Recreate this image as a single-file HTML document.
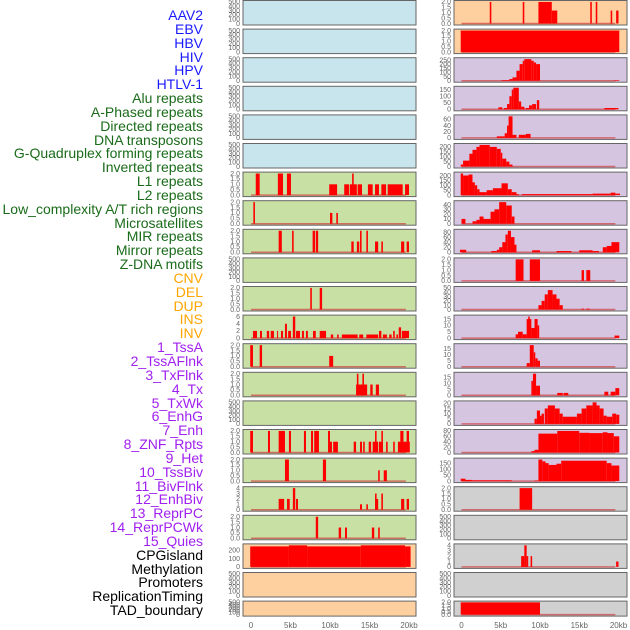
<!DOCTYPE html>
<html><head><meta charset="utf-8">
<style>
body{margin:0;background:#fff;width:630px;height:630px;overflow:hidden;font-family:"Liberation Sans",sans-serif}
#labels div{position:absolute;right:427px;font-size:14px;line-height:14px;white-space:nowrap}
</style></head>
<body>
<div id="labels"></div>
<svg id="chart" width="630" height="630" style="position:absolute;left:0;top:0"></svg>
<script>
const labelNames=["AAV2","EBV","HBV","HIV","HPV","HTLV-1","Alu repeats","A-Phased repeats","Directed repeats","DNA transposons","G-Quadruplex forming repeats","Inverted repeats","L1 repeats","L2 repeats","Low_complexity A/T rich regions","Microsatellites","MIR repeats","Mirror repeats","Z-DNA motifs","CNV","DEL","DUP","INS","INV","1_TssA","2_TssAFlnk","3_TxFlnk","4_Tx","5_TxWk","6_EnhG","7_Enh","8_ZNF_Rpts","9_Het","10_TssBiv","11_BivFlnk","12_EnhBiv","13_ReprPC","14_ReprPCWk","15_Quies","CPGisland","Methylation","Promoters","ReplicationTiming","TAD_boundary"];
const labelColors=["#1a1aff","#1a1aff","#1a1aff","#1a1aff","#1a1aff","#1a1aff","#1a6b1a","#1a6b1a","#1a6b1a","#1a6b1a","#1a6b1a","#1a6b1a","#1a6b1a","#1a6b1a","#1a6b1a","#1a6b1a","#1a6b1a","#1a6b1a","#1a6b1a","#ffa500","#ffa500","#ffa500","#ffa500","#ffa500","#a020f0","#a020f0","#a020f0","#a020f0","#a020f0","#a020f0","#a020f0","#a020f0","#a020f0","#a020f0","#a020f0","#a020f0","#a020f0","#a020f0","#a020f0","#000","#000","#000","#000","#000"];

const T500=[0,100,200,300,400,500],T2=[0,0.5,1,1.5,2];
const leftBg=["b","b","b","b","b","b","g","g","g","g","g","g","g","g","g","g","g","g","g","o","o","o"];
const rightBg=["o","o","p","p","p","p","p","p","p","p","p","p","p","p","p","p","p","y","y","y","y","y"];
const leftTicks=[T500,T500,T500,T500,T500,T500,T2,T2,T2,T500,T2,[0,2,4,6],T2,T2,T500,T2,T2,[0,1,2,3,4],T2,[0,100,200],T500,T500];
const rightTicks=[T2,T2,[0,50,100,150,200,250],[0,50,100,150],[0,20,40,60],[0,50,100,150,200],[0,50,100,150,200],[0,10,20,30,40],[0,20,40,60,80],T2,[0,10,20,30,40,50],[0,5,10,15],[0,5,10,15],[0,5,10,15],[0,5,10,15,20],[0,20,40,60,80],[0,50,100,150],T2,T500,[0,1,2,3,4],T500,T2];

// bars: [startKb, endKb, value]
const L6=[[0.6,1.1,2],[3.4,4.05,2],[4.55,5.06,2],[9.9,10.9,1],[11.8,12.4,1],[12.5,13.4,1],[12.8,13.0,2],[13.5,14.05,1],[14.8,15.4,1],[15.7,16.2,1],[16.5,17.1,1],[17.3,19.2,1],[19.5,20,1]];
const L7=[[0.3,0.5,2],[10.0,10.3,1],[10.8,11.0,1]];
const L8=[[3.5,3.9,2],[5.2,5.4,2],[7.8,8.1,2],[8.2,8.5,2],[12.7,13.0,1],[13.4,13.7,1],[13.8,14.0,2],[14.6,14.8,2],[15.7,16.1,1],[16.5,16.7,1],[19.0,19.4,1],[19.7,20,1]];
const L10=[[7.5,7.7,2],[8.7,9.0,2]];
const L11=[[0.25,0.76,2],[1.14,1.39,2],[2.0,2.3,2],[2.5,2.9,2],[3.3,3.4,2],[3.8,4.05,2],[4.3,4.55,4],[4.7,5.06,2],[5.3,5.6,6],[5.7,6.2,2],[6.45,6.7,2],[6.96,7.2,2],[7.85,8.2,2],[8.7,9.5,2],[10.1,10.4,1],[10.9,11.1,1],[11.5,13.5,1],[13.7,14.2,1],[14.6,16.1,1],[16.2,16.5,2],[16.7,17.2,1],[17.5,17.8,1],[18.0,18.2,2],[18.4,18.6,1],[18.7,19.0,3],[19.1,20,2]];
const L12=[[-0.1,0.25,2],[1.1,1.4,2],[9.9,10.4,1]];
const L13=[[13.3,14.7,1],[13.4,13.6,2],[14.1,14.3,2],[15.1,15.4,1],[15.8,16.2,1]];
const L15=[[-0.1,0.25,2],[2.15,2.4,2],[3.5,4.3,2],[4.8,5.06,2],[6.7,6.96,2],[7.6,7.85,2],[8.0,8.6,2],[9.75,10.0,2],[10.0,10.25,1],[10.4,11.0,1],[13.0,13.3,1],[13.8,14.05,1],[14.2,14.4,1],[14.9,15.2,1],[15.4,16.1,1],[15.7,15.9,2],[16.2,16.7,1],[16.5,16.7,2],[17.1,17.3,1],[18.0,18.2,1],[18.6,20.1,1],[18.9,19.3,2],[19.7,20.0,2]];
const L16=[[4.3,4.8,2],[9.1,9.5,2],[16.1,16.3,1],[16.8,17.2,1]];
const L17=[[3.5,4.2,2],[4.55,4.9,2],[5.3,5.6,4],[5.7,5.95,2],[13.8,14.05,1],[14.6,14.8,1],[15.7,16.1,2],[15.7,15.9,3],[16.5,16.7,3],[19.0,19.4,2],[19.7,20,2]];
const L18=[[8.2,8.5,2],[11.1,11.4,1],[11.9,12.15,1],[15.3,15.6,1],[16.1,16.3,1]];
const L19=[[-0.1,4.8,245],[4.8,7.1,258],[7.1,13.9,245],[13.9,19.5,258],[19.5,20.2,245]];
const leftData=[[],[],[],[],[],[],L6,L7,L8,[],L10,L11,L12,L13,[],L15,L16,L17,L18,L19,[],[]];

const R0=[[3.6,3.8,2],[7.8,8.0,2],[9.8,11.5,2],[11.5,12.2,1.2],[16.4,16.6,2],[17.1,17.3,2],[19.0,19.2,1.2],[19.7,20.0,1.2]];
const R1=[[-0.1,20.1,2]];
const R2=[[5.1,6.1,8],[6.1,6.5,20],[6.5,7.0,40],[7.0,7.4,120],[7.4,7.8,200],[7.8,8.0,240],[8.0,8.9,260],[8.9,9.2,240],[9.2,9.5,220],[9.5,10.0,200],[19.5,20.1,8]];
const R3=[[4.7,5.2,15],[5.4,5.8,10],[5.8,6.1,40],[6.1,6.4,100],[6.4,6.6,150],[6.6,7.3,165],[7.3,7.6,60],[7.6,8.0,20],[8.0,8.2,5],[8.2,8.6,10],[8.6,9.0,30],[9.0,9.5,40],[9.6,9.9,70],[18.2,20.0,10]];
const R4=[[4.5,5.5,5],[5.5,5.8,15],[5.8,6.0,40],[6.0,6.5,70],[6.5,7.0,10],[7.3,8.2,10],[8.2,8.8,13]];
const R5=[[-0.1,0.2,20],[0.2,1.0,60],[1.0,1.4,130],[1.4,1.9,170],[1.9,2.3,200],[2.3,3.6,220],[3.6,4.5,200],[4.5,5.0,180],[5.0,5.2,140],[5.2,5.7,80],[5.7,6.1,50],[6.1,6.5,20]];
const R6=[[-0.1,0.2,220],[0.2,0.9,200],[0.9,1.4,210],[1.4,1.7,130],[1.7,2.0,100],[2.0,2.3,60],[2.3,3.2,30],[3.2,4.0,50],[4.0,5.1,70],[5.1,5.9,120],[5.9,6.4,60],[6.4,7.0,30],[7.0,7.3,10],[7.7,16.7,10],[16.7,19.0,15],[19.0,19.6,25],[19.6,20.2,15]];
const R7=[[0,0.5,10],[1.4,1.9,5],[1.9,2.3,8],[2.3,2.8,15],[2.8,3.7,10],[3.7,4.2,25],[4.2,4.8,30],[4.8,5.7,45],[5.7,6.4,38],[6.4,6.75,15]];
const R8=[[-0.2,0.6,10],[3.8,4.5,5],[4.5,4.8,10],[4.8,5.2,20],[5.2,5.6,40],[5.6,5.9,70],[5.9,6.3,85],[6.3,6.75,60],[6.75,7.0,30],[9.0,10.0,8],[12.1,14.0,5],[15.0,16.7,8],[16.7,17.5,5],[18.0,18.5,20],[18.5,19.1,25],[19.1,20.1,40]];
const R9=[[6.9,7.9,2],[8.7,10.0,2],[15.3,15.6,1],[15.9,16.4,1]];
const R10=[[9.8,10.2,10],[10.2,10.6,20],[10.6,11.0,35],[11.0,11.6,45],[11.6,12.1,35],[12.1,12.5,25],[12.5,12.9,10],[15.3,15.6,2],[15.9,16.3,2]];
const R11=[[6.9,7.2,3],[7.2,7.8,5],[7.8,8.3,3],[8.3,8.9,15],[8.5,8.7,17],[8.9,9.3,8],[9.3,9.7,15],[9.7,9.9,10],[19.5,20.1,2]];
const R12=[[8.3,8.7,3],[8.7,9.2,18],[9.2,9.4,12],[9.4,9.7,7],[9.7,10.0,5]];
const R13=[[8.9,9.1,12],[9.1,9.5,18],[9.5,10.0,8],[12.2,12.9,2],[13.0,13.6,2],[18.2,18.7,3],[19.0,19.6,3],[19.6,20.1,6]];
const R14=[[9.3,9.6,5],[9.6,10.0,13],[10.0,10.2,8],[10.2,10.5,10],[10.6,11.0,15],[11.0,11.9,18],[11.9,12.5,15],[12.5,12.9,10],[12.9,14.7,7],[14.7,15.3,10],[15.3,15.9,15],[15.9,16.7,18],[16.7,17.2,21],[17.2,17.6,18],[17.6,18.1,15],[18.1,18.5,8],[18.5,19.2,7],[19.2,19.7,10],[19.7,20.1,9]];
const R15=[[8.9,9.3,5],[9.3,9.8,10],[9.8,12.2,70],[12.2,15.0,80],[15.0,16.3,73],[16.3,18.0,72],[18.0,18.6,75],[18.6,19.4,72],[19.4,20.1,60]];
const R16=[[-0.1,0.5,20],[0.5,1.3,10],[1.3,6.4,7],[9.3,9.8,5],[9.8,10.3,180],[10.3,10.7,165],[10.7,11.1,150],[11.1,12.1,135],[12.1,12.7,145],[12.7,18.5,170],[18.5,19.1,150],[19.1,20.1,130]];
const R17=[[7.4,9.0,2]];
const R19=[[7.6,8.0,2],[8.0,8.3,4],[8.3,8.5,2],[8.8,9.0,2],[19.7,20.0,1]];
const R21=[[-0.1,10.0,2]];
const rightData=[R0,R1,R2,R3,R4,R5,R6,R7,R8,R9,R10,R11,R12,R13,R14,R15,R16,R17,[],R19,[],R21];

const xTickVals=[0,5,10,15,20];
const xTickLabels=["0","5kb","10kb","15kb","20kb"];

const NS="http://www.w3.org/2000/svg";
const svg=document.getElementById('chart');
const bgColor={b:"#c8e4ec",g:"#c8e0a4",o:"#ffd09f",p:"#d5c5e1",y:"#d0d0d0"};
function mk(t,a){const e=document.createElementNS(NS,t);for(const k in a)e.setAttribute(k,a[k]);return e;}

// labels
const lab=document.getElementById('labels');
labelNames.forEach((n,i)=>{
  const d=document.createElement('div');
  
  
  d.style.top=(8+i*13.84)+'px';d.style.color=labelColors[i];d.textContent=n;lab.appendChild(d);
});

function rowTop(i){return 0.5+i*28.6;}
function rowH(i){return i===21?15:24.5;}
function xScale(col,kb){const x0=col===0?251:461.5;return x0+kb*(col===0?7.9:7.85);}

function drawPanel(col,i,bg,ticks,data){
  const left=col===0?243:454,w=173,top=rowTop(i),h=rowH(i);
  const g=mk('g',{});
  
  
  svg.appendChild(g);
  const r=mk('rect',{x:left,y:top,width:w,height:h,fill:bgColor[bg],stroke:"#666","stroke-width":1});
  
  
  g.appendChild(r);
  const maxT=ticks[ticks.length-1];
  let dmax=0;data.forEach(b=>{dmax=Math.max(dmax,b[2]);});
  const ymax=Math.max(maxT,dmax)*1.02;
  const y0=top+h-1.5,yTop=top+1;
  const ys=v=>y0-(v/ymax)*(y0-yTop);
  ticks.forEach(t=>{
    const tx=mk('text',{x:left-3,y:ys(t)+2.3,'font-size':7,fill:"#666",'text-anchor':'end'});
    
    
    tx.textContent=(ticks===T2||(ticks.length===5&&maxT===2))?t.toFixed(1):String(t);
    g.appendChild(tx);
  });
  if(data.length){
    const bl=mk('line',{x1:xScale(col,0),x2:xScale(col,19.6),y1:y0,y2:y0,stroke:"#d04040","stroke-width":1.5,opacity:0.7});
    
    
    g.appendChild(bl);
  }
  data.forEach(b=>{
    const x1=Math.max(left+1,xScale(col,b[0])),x2=Math.min(left+w-1,xScale(col,b[1]));
    const rr=mk('rect',{x:x1,y:ys(b[2]),width:Math.max(1,x2-x1),height:y0-ys(b[2]),fill:"#ff0000"});
    
    
    g.appendChild(rr);
  });
}
for(let i=0;i<22;i++){
  drawPanel(0,i,leftBg[i],leftTicks[i],leftData[i]);
  drawPanel(1,i,rightBg[i],rightTicks[i],rightData[i]);
}
[0,1].forEach(col=>{
  xTickVals.forEach((v,k)=>{
    const t=mk('text',{x:xScale(col,v),y:628,'font-size':8,fill:"#666",'text-anchor':'middle'});
    
    
    t.textContent=xTickLabels[k];svg.appendChild(t);
  });
});
</script>
</body></html>
